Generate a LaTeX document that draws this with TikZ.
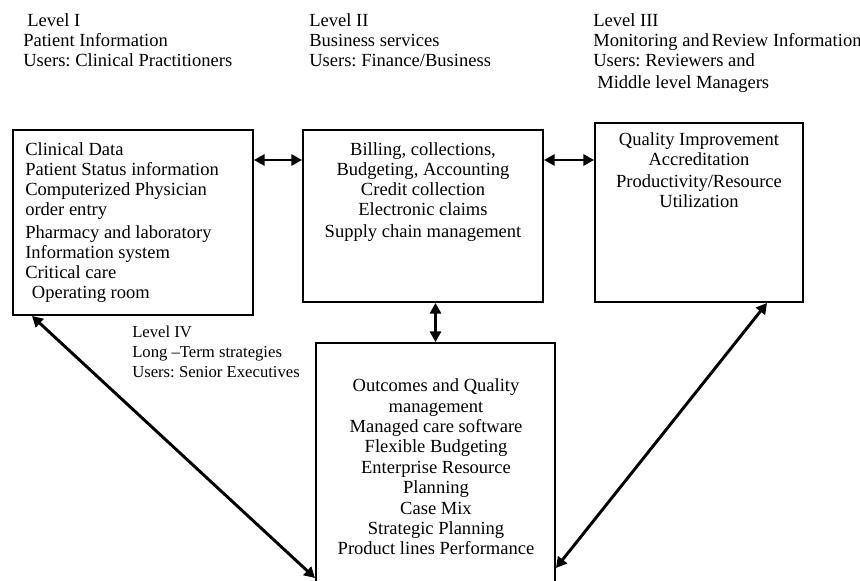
\documentclass[tikz,border=0pt]{standalone}
\usepackage{fontspec}
\setmainfont{Liberation Serif}
\usepackage{tikz}
\usetikzlibrary{arrows.meta,fit}

\begin{document}
\frenchspacing
\begin{tikzpicture}[x=0.75pt,y=-0.75pt,
    box/.style={draw,line width=1.5pt,inner sep=0pt},
    txt/.style={inner sep=0pt,font=\fontsize{13.9}{15}\selectfont},
    link/.style={{Triangle[length=8pt,width=8.5pt]}-{Triangle[length=8pt,width=8.5pt]},line width=1.6pt},
    diag/.style={link,line width=2.2pt}]
    \useasboundingbox (0,0) rectangle (860,581);
    % Level headings
    \node[txt,anchor=north west,align=left] (lvl1) at (23,13.5)
        {\hspace*{3pt}Level I\\Patient Information\\Users: Clinical Practitioners};
    \node[txt,anchor=north west,align=left] (lvl2) at (309,13.5)
        {Level II\\Business services\\Users: Finance/Business};
    \node[txt,anchor=north west,align=left] (lvl3) at (593,13.5)
        {Level III\\Monitoring and\hspace{2pt}Review Information\\Users: Reviewers and\\[1.5pt]\hspace*{3pt}Middle level Managers};
    \node[txt,anchor=north west,align=left,font=\fontsize{12.5}{15}\selectfont] (lvl4) at (132,326)
        {Level IV\\Long --Term strategies\\Users: Senior Executives};
    % Boxes
    \node[box,fit={(13,130) (253,315)}] (clin) {};
    \node[box,fit={(303,130) (543,302)}] (bill) {};
    \node[box,fit={(595,123) (803,302)}] (qual) {};
    \node[box,fit={(316,343) (555,600)}] (outc) {};
    % Box texts
    \node[txt,anchor=north west,align=left] (clintxt) at (25,142.5)
        {Clinical Data\\Patient Status information\\Computerized Physician\\order entry\\[2pt]Pharmacy and laboratory\\Information system\\Critical care\\\hspace*{5pt}Operating room};
    \node[txt,anchor=north,align=center] (billtxt) at (423,142.5)
        {Billing, collections,\\Budgeting, Accounting\\Credit collection\\Electronic claims\\[1.5pt]Supply chain management};
    \node[txt,anchor=north,align=center] (qualtxt) at (699,132.5)
        {Quality Improvement\\Accreditation\\[1.5pt]Productivity/Resource\\Utilization};
    \node[txt,anchor=north,align=center,font=\fontsize{13.9}{15.3}\selectfont] (outctxt) at (436,378.5)
        {Outcomes and Quality\\management\\Managed care software\\Flexible Budgeting\\Enterprise Resource\\Planning\\Case Mix\\Strategic Planning\\Product lines Performance};
    % Arrows
    \coordinate (row) at (0,160);
    \coordinate (lk) at (32,578);
    \coordinate (rk) at (767,568);
    \draw[link] (clin.east |- row) -- (bill.west |- row);
    \draw[link] (bill.east |- row) -- (qual.west |- row);
    \draw[link] (outc.north |- bill.south) -- (outc.north);
    \draw[diag] (lk |- clin.south) -- (outc.west |- lk);
    \draw[diag] (rk |- qual.south) -- (outc.east |- rk);
\end{tikzpicture}
\end{document}
